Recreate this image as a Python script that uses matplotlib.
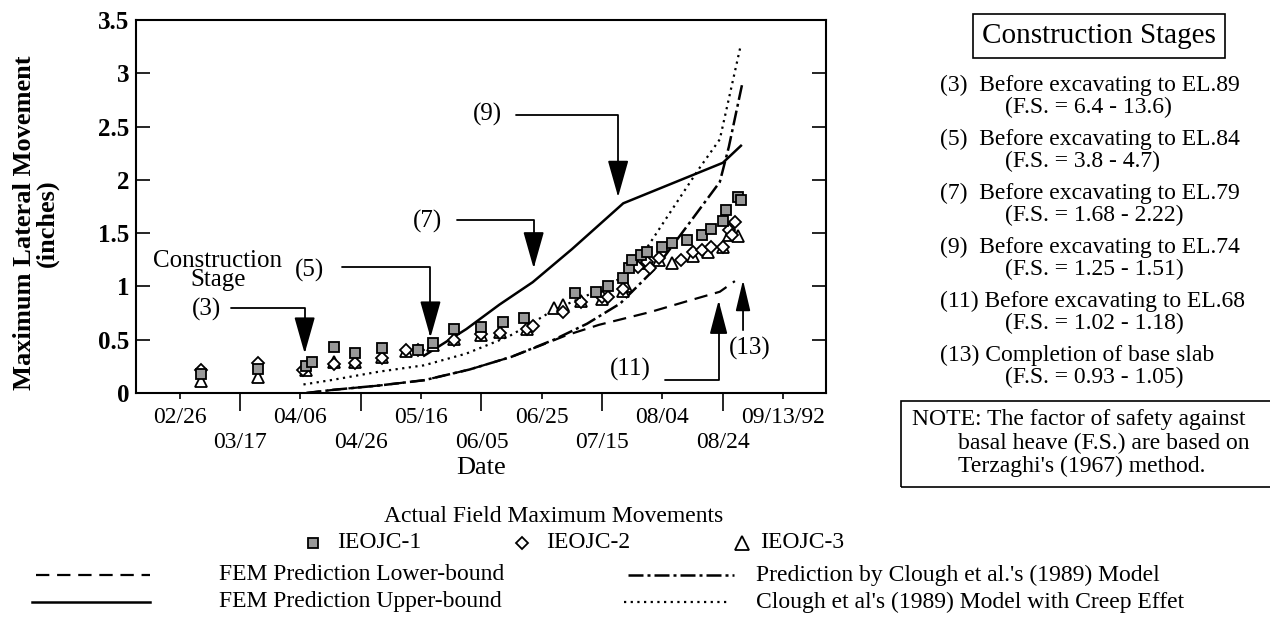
import matplotlib
matplotlib.use("Agg")
import matplotlib.pyplot as plt
from matplotlib.lines import Line2D
from matplotlib.patches import Rectangle
import numpy as np

plt.rcParams['font.family'] = ['Liberation Serif', 'DejaVu Serif']
plt.rcParams['font.size'] = 17

# x values are days after 02/26/92
tick_days = [0, 20, 40, 60, 80, 100, 120, 140, 160, 180, 200]
tick_labels = ['02/26', '03/17', '04/06', '04/26', '05/16', '06/05',
               '06/25', '07/15', '08/04', '08/24', '09/13/92']

# Actual field maximum movements (inches)
ieojc1_days = [7, 26, 42, 44, 51, 58, 67, 79, 84, 91, 100, 107, 114, 131, 138,
               142, 147, 149, 150, 153, 155, 160, 163, 168, 173, 176, 180, 181,
               185, 186]
ieojc1_mov = [0.18, 0.225, 0.25, 0.29, 0.435, 0.38, 0.42, 0.40, 0.47, 0.60,
              0.615, 0.67, 0.70, 0.935, 0.945, 1.00, 1.075, 1.17, 1.25, 1.295,
              1.325, 1.37, 1.41, 1.435, 1.48, 1.535, 1.615, 1.715, 1.84, 1.81]

ieojc2_days = [7, 26, 41, 51, 58, 67, 75, 79, 91, 100, 106, 115, 117, 127, 133,
               140, 142, 147, 152, 155, 156, 159, 166, 170, 173, 176, 180, 182,
               183, 184]
ieojc2_mov = [0.215, 0.28, 0.215, 0.27, 0.28, 0.33, 0.40, 0.40, 0.50, 0.55,
              0.56, 0.60, 0.63, 0.76, 0.855, 0.90, 0.90, 0.98, 1.185, 1.23,
              1.17, 1.27, 1.25, 1.325, 1.34, 1.37, 1.37, 1.53, 1.48, 1.60]

ieojc3_days = [7, 26, 42, 51, 58, 67, 75, 84, 91, 100, 106, 115, 124, 127, 133,
               140, 147, 148, 154, 159, 163, 170, 175, 180, 182, 185]
ieojc3_mov = [0.11, 0.15, 0.22, 0.29, 0.29, 0.34, 0.39, 0.45, 0.51, 0.54, 0.57,
              0.60, 0.80, 0.825, 0.86, 0.88, 0.96, 1.00, 1.22, 1.25, 1.22,
              1.285, 1.325, 1.37, 1.48, 1.47]

# Predictions
fem_low_days = [42, 51, 66, 81, 96, 110, 120, 128, 139, 156, 168, 179, 184]
fem_low_mov = [0.0, 0.03, 0.07, 0.12, 0.22, 0.34, 0.45, 0.54, 0.64, 0.76,
               0.86, 0.95, 1.05]

fem_up_days = [81, 95, 106, 117, 130, 147, 180, 186]
fem_up_mov = [0.35, 0.60, 0.83, 1.04, 1.35, 1.78, 2.16, 2.32]

clough_days = [42, 51, 66, 81, 96, 110, 124, 135, 146, 158, 168, 179, 182, 186.5]
clough_mov = [0.0, 0.03, 0.07, 0.12, 0.22, 0.34, 0.50, 0.65, 0.84, 1.18, 1.56,
              1.98, 2.31, 2.91]

creep_days = [41, 50, 66, 81, 95, 109, 117, 124, 137, 147, 155, 165, 172, 179, 186]
creep_mov = [0.08, 0.12, 0.20, 0.26, 0.37, 0.53, 0.66, 0.78, 0.94, 1.09, 1.37,
             1.80, 2.10, 2.38, 3.27]

stage_titles = ['(3)  Before excavating to EL.89', '(5)  Before excavating to EL.84',
                '(7)  Before excavating to EL.79', '(9)  Before excavating to EL.74',
                '(11) Before excavating to EL.68', '(13) Completion of base slab']
stage_fs = ['(F.S. = 6.4 - 13.6)', '(F.S. = 3.8 - 4.7)', '(F.S. = 1.68 - 2.22)',
            '(F.S. = 1.25 - 1.51)', '(F.S. = 1.02 - 1.18)', '(F.S. = 0.93 - 1.05)']

W, H = 1270, 617


def fx(px):
    return px / W


def fy(py):
    return 1 - py / H


fig = plt.figure(figsize=(12.7, 6.17), dpi=100)
ax = fig.add_axes([fx(136), fy(393), fx(826) - fx(136), fy(20) - fy(393)])

dashed = (0, (6, 3.5))
dashdot = (0, (6, 1.6, 1.2, 1.6))
dotted = (0, (1, 2))

ax.plot(fem_low_days, fem_low_mov, color='k', lw=1.6, ls=dashed)
ax.plot(fem_up_days, fem_up_mov, color='k', lw=1.8)
ax.plot(clough_days, clough_mov, color='k', lw=1.8, ls=dashdot)
ax.plot(creep_days, creep_mov, color='k', lw=1.6, ls=dotted)

ax.plot(ieojc3_days, ieojc3_mov, ls='none', marker='^', ms=8, mfc='white',
        mec='k', mew=1.3)
ax.plot(ieojc2_days, ieojc2_mov, ls='none', marker='D', ms=6.5, mfc='white',
        mec='k', mew=1.3)
ax.plot(ieojc1_days, ieojc1_mov, ls='none', marker='s', ms=7.5, mfc='0.6',
        mec='k', mew=1.3)

ax.set_xlim(-14.5, 214.2)
ax.set_ylim(0, 3.5)
ax.set_yticks(np.arange(0, 3.51, 0.5))
ax.set_yticklabels(['0', '0.5', '1', '1.5', '2', '2.5', '3', '3.5'],
                   fontweight='bold', fontsize=18)
ax.tick_params(axis='y', direction='in', length=10, width=1.2, right=True,
               pad=5)
ax.set_xticks(tick_days[::2], tick_labels[::2])
ax.set_xticks(tick_days[1::2], tick_labels[1::2], minor=True)
ax.tick_params(axis='x', which='major', direction='out', length=4, width=1.2,
               pad=6, labelsize=17)
ax.tick_params(axis='x', which='minor', direction='out', length=13, width=1.2,
               pad=15, labelsize=17)
for s in ax.spines.values():
    s.set_linewidth(1.5)

# stage arrows
big_head = dict(arrowstyle='-|>,head_length=23,head_width=6.5', mutation_scale=1,
                color='k', lw=1.3, shrinkA=0, shrinkB=0,
                connectionstyle='angle,angleA=0,angleB=90,rad=0')
ax.annotate('', xy=(41.4, 0.37), xytext=(16.9, 0.795), arrowprops=big_head)
ax.annotate('', xy=(83.1, 0.52), xytext=(53.9, 1.185), arrowprops=big_head)
ax.annotate('', xy=(117.3, 1.17), xytext=(92, 1.62), arrowprops=big_head)
ax.annotate('', xy=(145.3, 1.84), xytext=(111.3, 2.61), arrowprops=big_head)
ax.annotate('', xy=(178.6, 0.87), xytext=(160.9, 0.122),
            arrowprops=dict(big_head, arrowstyle='-|>,head_length=21,head_width=5.5'))
ax.annotate('', xy=(186.7, 1.06), xytext=(186.7, 0.59),
            arrowprops=dict(arrowstyle='-|>,head_length=19,head_width=4.5',
                            mutation_scale=1, color='k', lw=1.3,
                            shrinkA=0, shrinkB=0))

ax.text(8.9, 0.78, '(3)', ha='center', va='center', fontsize=18)
ax.text(43, 1.15, '(5)', ha='center', va='center', fontsize=18)
ax.text(82, 1.61, '(7)', ha='center', va='center', fontsize=18)
ax.text(102, 2.61, '(9)', ha='center', va='center', fontsize=18)
ax.text(149.3, 0.225, '(11)', ha='center', va='center', fontsize=18)
ax.text(189, 0.42, '(13)', ha='center', va='center', fontsize=18)
ax.text(12.6, 1.15, 'Construction\nStage', ha='center', va='center',
        fontsize=18, linespacing=0.85)

# axis titles
fig.text(fx(36), fy(223), 'Maximum Lateral Movement\n(inches)', rotation=90,
         ha='center', va='center', fontsize=19, fontweight='bold',
         linespacing=1.0)
fig.text(fx(481), fy(468), 'Date', ha='center', va='center', fontsize=19)

# construction stages panel
fig.text(fx(1099), fy(36), 'Construction Stages', ha='center', va='center',
         fontsize=21, bbox=dict(boxstyle='square,pad=0.3', fc='white',
                                ec='k', lw=1.2))
for i, (t1, t2) in enumerate(zip(stage_titles, stage_fs)):
    y0 = 85 + i * 54
    fig.text(fx(940), fy(y0), t1, ha='left', va='center', fontsize=17)
    fig.text(fx(1005), fy(y0 + 22), t2, ha='left', va='center', fontsize=17)

fig.add_artist(Rectangle((fx(901), fy(487)), fx(380), fy(401) - fy(487),
                         transform=fig.transFigure, fill=False, ec='k', lw=1.2))
fig.text(fx(912), fy(419), 'NOTE: The factor of safety against', ha='left',
         va='center', fontsize=17)
fig.text(fx(958), fy(443), 'basal heave (F.S.) are based on', ha='left',
         va='center', fontsize=17)
fig.text(fx(958), fy(466), "Terzaghi's (1967) method.", ha='left',
         va='center', fontsize=17)

# legend
fig.text(fx(554), fy(517), 'Actual Field Maximum Movements', ha='center',
         va='center', fontsize=17)
fig.add_artist(Line2D([fx(313)], [fy(543)], marker='s', ms=7.5, mfc='0.6',
                      mec='k', mew=1.3, transform=fig.transFigure))
fig.text(fx(337), fy(543), 'IEOJC-1', ha='left', va='center', fontsize=17)
fig.add_artist(Line2D([fx(522)], [fy(543)], marker='D', ms=6.5, mfc='white',
                      mec='k', mew=1.3, transform=fig.transFigure))
fig.text(fx(546), fy(543), 'IEOJC-2', ha='left', va='center', fontsize=17)
fig.add_artist(Line2D([fx(742)], [fy(543)], marker='^', ms=10, mfc='white',
                      mec='k', mew=1.3, transform=fig.transFigure))
fig.text(fx(760), fy(543), 'IEOJC-3', ha='left', va='center', fontsize=17)

fig.add_artist(Line2D([fx(36), fx(150)], [fy(575), fy(575)], color='k', lw=1.6,
                      ls=dashed, transform=fig.transFigure))
fig.text(fx(219), fy(575), 'FEM Prediction Lower-bound', ha='left',
         va='center', fontsize=17)
fig.add_artist(Line2D([fx(32), fx(150)], [fy(602), fy(602)], color='k', lw=1.8,
                      transform=fig.transFigure))
fig.text(fx(219), fy(602), 'FEM Prediction Upper-bound', ha='left',
         va='center', fontsize=17)
fig.add_artist(Line2D([fx(628), fx(734)], [fy(575), fy(575)], color='k', lw=1.8,
                      ls=dashdot, transform=fig.transFigure))
fig.text(fx(756), fy(575), "Prediction by Clough et al.'s (1989) Model",
         ha='left', va='center', fontsize=17)
fig.add_artist(Line2D([fx(624), fx(730)], [fy(602), fy(602)], color='k', lw=1.6,
                      ls=dotted, transform=fig.transFigure))
fig.text(fx(756), fy(602), "Clough et al's (1989) Model with Creep Effet",
         ha='left', va='center', fontsize=17)

fig.savefig('out.png', dpi=100)
